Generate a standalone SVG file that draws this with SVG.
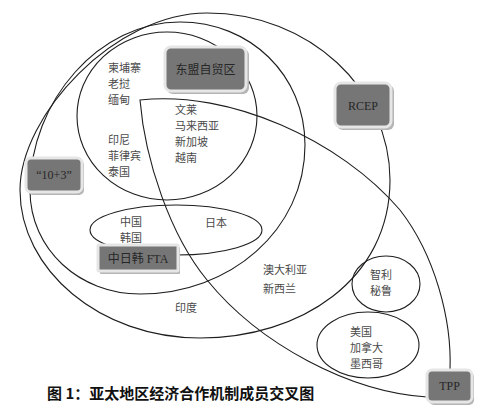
<svg xmlns="http://www.w3.org/2000/svg" width="500" height="410" viewBox="0 0 500 410">
<style>
.c{fill:none;stroke:#1e1e1e;stroke-width:1.1}
.lb{font-family:"Noto Sans CJK SC","Noto Sans",sans-serif;font-size:11px;fill:#4a4a4a}
.bx{fill:#767676;stroke:#e6e6e6;stroke-width:3}
.sh{fill:#b5b5b5}
.bt{font-family:"Liberation Serif","Noto Sans CJK SC",serif;font-size:12px;fill:#262626;text-anchor:middle}
.cap{font-family:"Noto Sans CJK SC",sans-serif;font-size:15px;font-weight:bold;fill:#111}
</style>
<rect width="500" height="410" fill="#fff"/>
<g id="connectors">
<path id="rcep-line" class="c" d="M207,13 C310,13 390,90 390,180 C390,280 300,338 200,338 C100,338 20,270 20,190 C20,115 115,13 207,13 Z"/>
<path id="apt-line" class="c" d="M180,22 C250,22 305,75 305,145 C305,230 230,294 140,294 C80,294 30,250 30,190 C30,100 100,22 180,22 Z"/>
<ellipse id="asean-line" class="c" cx="167" cy="116" rx="90" ry="84"/>
<path id="tpp-line" class="c" d="M140,100 C230,90 340,140 400,210 C435,255 452,320 450,370 L427,397 C350,392 260,345 207,280 C170,235 145,160 140,100 Z"/>
<ellipse id="jck-line" class="c" cx="176" cy="230" rx="86" ry="25"/>
<ellipse id="chile-line" class="c" cx="386" cy="284" rx="34" ry="28"/>
<ellipse id="na-line" class="c" cx="368" cy="345" rx="51" ry="33"/>
</g>
<g id="labels" class="lb">
<text x="108" y="72">柬埔寨</text>
<text x="108" y="88">老挝</text>
<text x="108" y="104">缅甸</text>
<text x="108" y="144">印尼</text>
<text x="108" y="160">菲律宾</text>
<text x="108" y="176">泰国</text>
<text x="175" y="114">文莱</text>
<text x="175" y="130">马来西亚</text>
<text x="175" y="146">新加坡</text>
<text x="175" y="162">越南</text>
<text x="120" y="226">中国</text>
<text x="120" y="242">韩国</text>
<text x="205" y="227">日本</text>
<text x="175" y="312">印度</text>
<text x="263" y="274">澳大利亚</text>
<text x="263" y="293">新西兰</text>
<text x="370" y="279">智利</text>
<text x="370" y="295">秘鲁</text>
<text x="350" y="336">美国</text>
<text x="350" y="352">加拿大</text>
<text x="350" y="368">墨西哥</text>
</g>
<g id="node-asean">
<rect class="sh" x="167" y="49" width="82" height="45" rx="6"/>
<rect class="bx" x="165" y="47" width="81" height="44" rx="6"/>
<text class="bt" x="205.5" y="74">东盟自贸区</text>
</g>
<g id="node-rcep">
<rect class="sh" x="337" y="85" width="57" height="45" rx="6"/>
<rect class="bx" x="335" y="83" width="56" height="44" rx="6"/>
<text class="bt" x="363" y="110">RCEP</text>
</g>
<g id="node-apt">
<rect class="sh" x="28" y="160" width="56" height="35" rx="5"/>
<rect class="bx" x="26" y="158" width="56" height="34" rx="5"/>
<text class="bt" x="54" y="179">“10+3”</text>
</g>
<g id="node-fta">
<rect class="sh" x="100" y="247" width="80" height="27" rx="1"/>
<rect class="bx" x="98" y="245" width="80" height="26" rx="1"/>
<text class="bt" x="138" y="263">中日韩 FTA</text>
</g>
<g id="node-tpp">
<rect class="sh" x="429" y="372" width="45" height="33" rx="5"/>
<rect class="bx" x="427" y="370" width="45" height="32" rx="5"/>
<text class="bt" x="449.5" y="390">TPP</text>
</g>
<text class="cap" x="47" y="399">图 1：亚太地区经济合作机制成员交叉图</text>
</svg>
